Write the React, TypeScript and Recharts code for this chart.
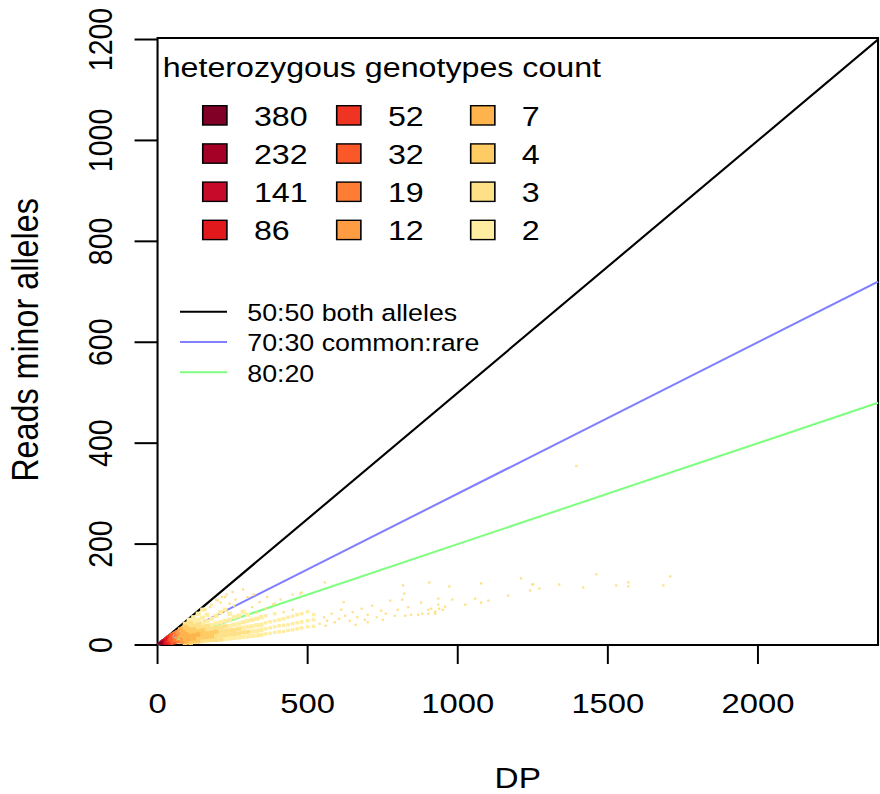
import React from 'react';
import { ScatterChart, Scatter, XAxis, YAxis, ReferenceLine, ReferenceArea, Legend, Label } from 'recharts';

// hexbin count classes, as in the legend
const legendCounts = [380, 232, 141, 86, 52, 32, 19, 12, 7, 4, 3, 2];

// cells of the 2D histogram, [DP, reads of minor allele], grouped by count class
const cells380 = [[5, 2], [8, 3]];
const cells232 = [[10, 4], [12, 6], [13, 2]];
const cells141 = [[15, 7], [17, 3], [18, 9]];
const cells86 = [[20, 9], [22, 4], [25, 11], [27, 2], [28, 13]];
const cells52 = [[32, 15], [35, 17], [33, 5], [38, 3], [30, 8], [24, 6]];
const cells32 = [[42, 19], [46, 21], [40, 7], [45, 11], [48, 3], [36, 10], [42, 14], [55, 4]];
const cells19 = [[52, 23], [58, 25], [50, 7], [52, 12], [50, 16], [62, 5], [60, 20], [56, 10], [68, 6]];
const cells12 = [[64, 27], [70, 29], [62, 9], [64, 14], [66, 18], [72, 8], [70, 23], [76, 6], [78, 12], [82, 5]];
const cells7 = [
  [76, 31], [80, 16], [82, 20], [84, 26], [86, 10], [90, 14], [92, 18], [88, 7], [95, 22],
  [105, 12], [105, 18], [120, 13], [120, 19], [135, 21], [98, 8],
];
const cells4 = [
  [85, 33], [92, 36], [96, 28], [100, 32], [105, 24], [105, 30], [120, 7], [120, 25], [120, 31],
  [135, 7], [135, 14], [135, 27], [150, 15], [150, 22], [150, 29], [165, 16], [165, 23],
  [180, 17], [180, 24], [195, 26], [110, 4], [92, 3],
];
const cells3 = [
  [100, 40], [105, 37], [120, 38], [135, 34], [135, 41], [150, 8], [150, 36], [165, 9], [165, 30],
  [165, 38], [180, 10], [180, 32], [195, 10], [195, 18], [195, 34], [210, 11], [210, 19], [210, 27],
  [210, 35], [225, 20], [225, 28], [225, 37], [240, 21], [240, 29], [255, 22], [255, 30], [270, 23],
  [270, 32], [285, 25], [300, 26], [110, 44], [92, 42],
];
const cells2 = [
  [105, 44], [105, 50], [120, 45], [120, 55], [135, 50], [135, 62], [150, 44], [150, 54], [150, 70],
  [165, 47], [165, 60], [180, 40], [180, 52], [195, 43], [195, 58], [210, 45], [210, 65],
  [225, 12], [225, 48], [225, 70], [240, 13], [240, 38], [240, 50], [240, 62], [255, 14], [255, 40],
  [255, 55], [270, 15], [270, 42], [270, 58], [285, 16], [285, 34], [285, 45], [285, 66], [300, 17],
  [300, 36], [300, 48], [300, 60], [315, 18], [315, 27], [315, 37], [315, 50], [330, 19], [330, 28],
  [330, 39], [330, 52], [345, 20], [345, 30], [345, 40], [345, 55],
];
// thinner part of the cloud
const cellsMid = [
  [360, 22], [360, 32], [360, 44], [360, 58], [375, 23], [375, 34], [375, 46], [390, 25], [390, 36],
  [390, 48], [390, 62], [405, 26], [405, 38], [405, 50], [420, 27], [420, 39], [420, 52], [435, 29],
  [435, 40], [435, 55], [450, 30], [450, 42], [450, 57], [465, 32], [465, 44], [465, 60], [480, 34],
  [480, 46], [480, 62], [500, 36], [500, 48], [500, 66], [520, 37], [520, 50], [520, 60],
];
// isolated cells
const cellsSparse = [
  [140, 62], [160, 70], [175, 75], [180, 80], [195, 90], [200, 88], [210, 84], [215, 95], [225, 95],
  [230, 100], [250, 105], [255, 78], [120, 52], [285, 110], [260, 90], [240, 82], [300, 95], [315, 75],
  [320, 100], [330, 64], [340, 85], [360, 72], [365, 95], [385, 80], [390, 82], [410, 90], [420, 65],
  [450, 70], [450, 100], [475, 102], [480, 104], [557, 124], [540, 42], [555, 55], [565, 48], [580, 62],
  [590, 45], [605, 52], [612, 70], [625, 58], [640, 48], [650, 65], [665, 55], [680, 72], [690, 50],
  [700, 60], [715, 78], [730, 55], [745, 68], [760, 62], [775, 88], [790, 58], [800, 70], [815, 90],
  [818, 118], [825, 58], [835, 75], [845, 60], [868, 60], [878, 84], [882, 62], [902, 70], [902, 62],
  [905, 124], [912, 72], [925, 66], [925, 62], [935, 80], [935, 92], [938, 72], [950, 70], [958, 76],
  [972, 116], [982, 90], [1025, 80], [1058, 92], [1078, 84], [1078, 122], [1102, 88], [1168, 98],
  [1211, 132], [1241, 108], [1248, 120], [1252, 120], [1272, 112], [1338, 120], [1418, 114],
  [1462, 140], [1528, 118], [1568, 124], [1568, 116], [1685, 118], [1708, 136], [1395, 355],
  [822, 102], [620, 85], [660, 40], [700, 45], [750, 50], [560, 38],
];

const cellLevels = [cells380, cells232, cells141, cells86, cells52, cells32, cells19, cells12, cells7, cells4, cells3, cells2];

const xTicks = [0, 500, 1000, 1500, 2000];
const yTicks = [0, 200, 400, 600, 800, 1000, 1200];
const xDomain = [0, 2400];
const yDomain = [0, 1203];

// expected minor allele reads for each ratio, at DP 0 and DP 2400
const ratioLabels = ['50:50 both alleles', '70:30 common:rare', '80:20'];
const ratioEnds = [[0, 0, 2400, 1200], [0, 0, 2400, 720], [0, 0, 2400, 480]];

// styles
const levelColors = ['#800026', '#A50026', '#C70A2A', '#E1191D', '#EF3423', '#FB582A', '#FC7D33', '#FD9C42', '#FEB34D', '#FECC63', '#FEE087', '#FFEEA2'];
const ratioColors = ['#000000', '#7F7FFF', '#7FFF7F'];
const FONT = '"Liberation Sans", Arial, Helvetica, sans-serif';
const SX = 1.15; // the picture is stretched horizontally
const W = 766;
const H = 794;

const toRows = (cells: number[][]) => cells.map(([dp, reads]) => ({ dp, reads }));

const cellShape = (color: string, w: number, h: number) => (p: any) =>
  <rect x={p.cx - w / 2} y={p.cy - h / 2} width={w} height={h} fill={color} />;

const XTick = (props: any) => (
  <text x={props.x} y={713} textAnchor="middle" fontSize={28.5} fontFamily={FONT} fill="#000">
    {props.payload.value}
  </text>
);

const YTick = (props: any) => (
  <text x={97.4} y={props.y} transform={`rotate(-90, 97.4, ${props.y})`} textAnchor="middle" fontSize={28.5} fontFamily={FONT} fill="#000">
    {props.payload.value}
  </text>
);

const XTitle = (props: any) => {
  const vb = props.viewBox || { x: 137, width: 626.5 };
  return (
    <text x={vb.x + vb.width / 2} y={788} textAnchor="middle" fontSize={29} fontFamily={FONT} fill="#000">DP</text>
  );
};

const YTitle = () => (
  <text x={33} y={340} transform="rotate(-90, 33, 340)" textAnchor="middle" fontSize={32.3} fontFamily={FONT} fill="#000">
    Reads minor alleles
  </text>
);

const LegendBox = () => (
  <svg width={W} height={H} style={{ display: 'block', overflow: 'visible' }}>
    <text x={141.5} y={77} fontSize={28} fontFamily={FONT} fill="#000">heterozygous genotypes count</text>
    {legendCounts.map((c, i) => {
      const col = Math.floor(i / 4);
      const row = i % 4;
      const x0 = 176.3 + col * 116.5;
      const cy = 115.3 + row * 38.2;
      return (
        <g key={c}>
          <rect x={x0} y={cy - 9.6} width={21} height={19.3} fill={levelColors[i]} stroke="#000" strokeWidth={1.4} />
          <text x={x0 + 44.5} y={cy + 10.5} fontSize={28} fontFamily={FONT} fill="#000">{c}</text>
        </g>
      );
    })}
    {ratioLabels.map((t, i) => {
      const y = 311.7 + i * 30.3;
      return (
        <g key={t}>
          <line x1={156.5} x2={197.4} y1={y} y2={y} stroke={ratioColors[i]} strokeWidth={2} />
          <text x={215} y={y + 9.5} fontSize={23.3} fontFamily={FONT} fill="#000">{t}</text>
        </g>
      );
    })}
  </svg>
);

export default function App() {
  const order = cellLevels.map((_, i) => i).reverse();
  return (
    <div style={{ position: 'absolute', left: 0, top: 0, width: 880, height: 794, overflow: 'hidden', background: '#fff' }}>
      <div style={{ width: W, height: H, transform: `scaleX(${SX})`, transformOrigin: '0 0' }}>
        <ScatterChart width={W} height={H} margin={{ top: 38, right: 2.5, left: 0, bottom: 0 }}>
          <XAxis
            type="number"
            dataKey="dp"
            domain={xDomain}
            ticks={xTicks}
            interval={0}
            allowDataOverflow
            height={149}
            tickSize={19}
            axisLine={false}
            tickLine={{ stroke: '#000', strokeWidth: 1.7 }}
            tick={XTick}
          >
            <Label content={XTitle} />
          </XAxis>
          <YAxis
            type="number"
            dataKey="reads"
            domain={yDomain}
            ticks={yTicks}
            interval={0}
            allowDataOverflow
            width={137}
            tickSize={20}
            axisLine={false}
            tickLine={{ stroke: '#000', strokeWidth: 2 }}
            tick={YTick}
          >
            <Label content={YTitle} />
          </YAxis>
          <Legend
            layout="horizontal"
            verticalAlign="middle"
            align="center"
            wrapperStyle={{ left: 0, top: 0, width: W, height: H, pointerEvents: 'none' }}
            content={() => <LegendBox />}
          />
          <Scatter data={toRows(cellsSparse)} isAnimationActive={false} shape={cellShape(levelColors[10], 2, 2.2)} />
          <Scatter data={toRows(cellsMid)} isAnimationActive={false} shape={cellShape(levelColors[11], 3.2, 3.4)} />
          {order.map((i) => (
            <Scatter
              key={legendCounts[i]}
              data={toRows(cellLevels[i])}
              isAnimationActive={false}
              shape={i < 8 ? cellShape(levelColors[i], 2.8, 2.8) : cellShape(levelColors[i], 4.2, 4.2)}
            />
          ))}
          {ratioEnds.map((e, i) => (
            <ReferenceLine
              key={ratioLabels[i]}
              segment={[{ x: e[0], y: e[1] }, { x: e[2], y: e[3] }]}
              stroke={ratioColors[i]}
              strokeWidth={2}
              ifOverflow="visible"
            />
          ))}
          <ReferenceArea x1={xDomain[0]} x2={xDomain[1]} y1={yDomain[0]} y2={yDomain[1]} fill="none" stroke="#000" strokeWidth={1.8} ifOverflow="visible" />
        </ScatterChart>
      </div>
    </div>
  );
}
